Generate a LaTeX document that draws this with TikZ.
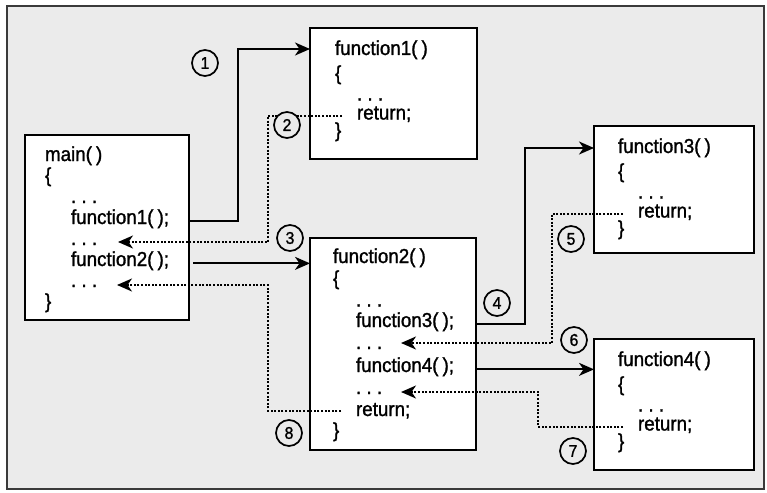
\documentclass[tikz,border=0pt]{standalone}
\usepackage{fontspec}
\setmainfont{Liberation Sans}[FakeBold=1.3,FakeStretch=0.93]
\usetikzlibrary{arrows.meta,calc}
\definecolor{bgc}{HTML}{EBEBEB}
\definecolor{framec}{HTML}{3A3A3A}
\newcommand{\pp}{(\hspace{0.2em})}
\begin{document}
\begin{tikzpicture}[x=1pt,y=-1pt,
  font=\fontsize{20.2}{22}\selectfont\frenchspacing,
  box/.style={draw=black, line width=2pt, fill=white, inner sep=0pt, outer sep=0pt, anchor=north west},
  txt/.style={anchor=base west, inner sep=0pt, outer sep=0pt},
  num/.style={circle, draw=black, fill=bgc, line width=1.7pt, minimum size=26pt, inner sep=0pt, font=\fontsize{17}{17}\selectfont},
  call/.style={line width=1.8pt, -{Stealth[length=15pt,width=13pt,inset=4.5pt]}},
  ret/.style={line width=2pt, dash pattern=on 2pt off 1.6pt, -{Stealth[length=15pt,width=13pt,inset=4.5pt]}},
]
\useasboundingbox (0,0) rectangle (767,492);
\fill[white] (0,0) rectangle (767,492);
\draw[draw=framec, fill=bgc, line width=1.6pt] (7,6) rectangle (764,489);

% boxes
\node[box, minimum width=164pt, minimum height=185pt] (mainbox) at (25,135) {};
\node[box, minimum width=167pt, minimum height=131pt] (f1box) at (310,28) {};
\node[box, minimum width=166pt, minimum height=212pt] (f2box) at (310,238) {};
\node[box, minimum width=160pt, minimum height=127pt] (f3box) at (594,126) {};
\node[box, minimum width=160pt, minimum height=131pt] (f4box) at (594,339) {};

% main text
\node[txt] (m1) at (45,161) {main\pp};
\node[txt] (m2) at (45,182) {\{};
\node[txt] (m3) at (71,203) {. . .};
\node[txt] (m4) at (71,224) {function1\pp;};
\node[txt] (m5) at (71,245) {. . .};
\node[txt] (m6) at (71,266) {function2\pp;};
\node[txt] (m7) at (71,287) {. . .};
\node[txt] (m8) at (45,308) {\}};

% function1 text
\node[txt] (a1) at (335,55) {function1\pp};
\node[txt] (a2) at (335,80) {\{};
\node[txt] (a3) at (357,100.5) {. . .};
\node[txt] (f1ret) at (357,119.5) {return;};
\node[txt] (a5) at (335,137) {\}};

% function2 text
\node[txt] (b1t) at (333,263) {function2\pp};
\node[txt] (b2t) at (333,285) {\{};
\node[txt] (b3t) at (356,306.5) {. . .};
\node[txt] (f2l3) at (356,327) {function3\pp;};
\node[txt] (b5t) at (356,349) {. . .};
\node[txt] (f2l5) at (356,372) {function4\pp;};
\node[txt] (b7t) at (356,394) {. . .};
\node[txt] (f2ret) at (356,416) {return;};
\node[txt] (b9t) at (333,437) {\}};

% function3 text
\node[txt] (c1t) at (618,153) {function3\pp};
\node[txt] (c2t) at (618,178) {\{};
\node[txt] (c3t) at (638,198.5) {. . .};
\node[txt] (f3ret) at (638,217.5) {return;};
\node[txt] (c5t) at (618,235) {\}};

% function4 text
\node[txt] (d1t) at (618,366) {function4\pp};
\node[txt] (d2t) at (618,391) {\{};
\node[txt] (d3t) at (638,411.5) {. . .};
\node[txt] (f4ret) at (638,430.5) {return;};
\node[txt] (d5t) at (618,448) {\}};

% bends and tips
\coordinate (k1) at (238,49);
\coordinate (k2) at (268,242);
\coordinate (k8) at (268,285);
\coordinate (k4) at (525,148);
\coordinate (k5) at (552,343);
\coordinate (k7) at (538,392);
\coordinate (t2) at (118,242);
\coordinate (t8) at (117,285);
\coordinate (t5) at (401,343);
\coordinate (t7) at (401,392);

% calls
\draw[call] (mainbox.east |- m4.mid) -| (k1) -- (f1box.west |- k1);
\draw[call] ($(mainbox.east |- m6.mid)+(4,0)$) -- (f2box.west |- m6.mid);
\draw[call] (f2box.east |- f2l3.mid) -| (k4) -- (f3box.west |- k4);
\draw[call] (f2box.east |- f2l5.mid) -- (f4box.west |- f2l5.mid);

% returns
\draw[ret] ($(f1ret.base west)+(-15,-4)$) -| (k2) -- (t2);
\draw[ret] ($(f2ret.base west)+(-15,-5)$) -| (k8) -- (t8);
\draw[ret] ($(f3ret.base west)+(-15,-4)$) -| (k5) -- (t5);
\draw[ret] ($(f4ret.base west)+(-15,-4)$) -| (k7) -- (t7);

% numbers
\node[num] (n1) at (205,63) {1};
\node[num] (n2) at (287,125) {2};
\node[num] (n3) at (290,238) {3};
\node[num] (n4) at (497,303) {4};
\node[num] (n5) at (571,239) {5};
\node[num] (n6) at (574,340) {6};
\node[num] (n7) at (573,451) {7};
\node[num] (n8) at (289,433) {8};
\end{tikzpicture}
\end{document}
